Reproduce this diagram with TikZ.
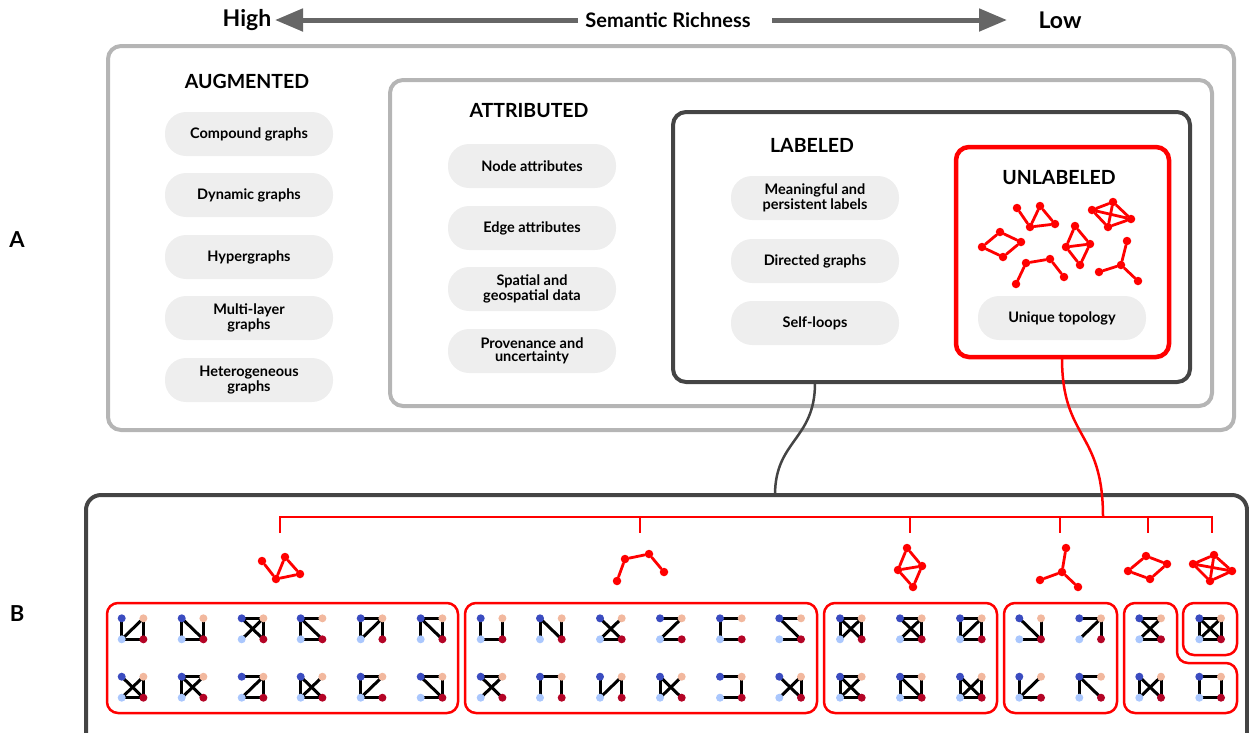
\documentclass[tikz,border=0pt]{standalone}
\usepackage{fontspec}
\setmainfont{Lato}
\usetikzlibrary{arrows.meta,backgrounds}
\definecolor{gbox}{HTML}{B5B5B5}
\definecolor{dbox}{HTML}{444444}
\definecolor{pillc}{HTML}{EEEEEE}
\definecolor{nA}{HTML}{3B4CC0}
\definecolor{nB}{HTML}{F2B89E}
\definecolor{nC}{HTML}{AAC7FD}
\definecolor{nD}{HTML}{B40426}
\definecolor{rred}{HTML}{FF0000}
\definecolor{arrc}{HTML}{666666}
\tikzset{
  pillbox/.style={fill=pillc, rounded corners=21pt, minimum width=168pt, minimum height=44pt, inner sep=0pt, align=center, font=\bfseries\fontsize{14.5}{12.5}\selectfont},
  boxtitle/.style={font=\bfseries\fontsize{19.5}{20}\selectfont},
  graybox/.style={draw=gbox, line width=4pt, rounded corners=13pt, inner sep=0pt},
  darkbox/.style={draw=dbox, line width=4pt, rounded corners=13pt, inner sep=0pt},
  redbox/.style={draw=rred, line width=4.5pt, rounded corners=13pt, inner sep=0pt},
  grpbox/.style={draw=rred, line width=2.5pt, rounded corners=11pt},
  redge/.style={draw=rred, line width=2.8pt, line cap=round},
  rdot/.style={circle, fill=rred, inner sep=0pt, minimum size=8.5pt},
  bedge/.style={draw=black, line width=3pt},
  dotA/.style={circle, fill=nA, inner sep=0pt, minimum size=8pt},
  dotB/.style={circle, fill=nB, inner sep=0pt, minimum size=8pt},
  dotC/.style={circle, fill=nC, inner sep=0pt, minimum size=8pt},
  dotD/.style={circle, fill=nD, inner sep=0pt, minimum size=8pt},
  headtext/.style={font=\bfseries\fontsize{23}{24}\selectfont},
  sidelabel/.style={font=\bfseries\fontsize{22}{24}\selectfont},
  richarrow/.style={arrc, line width=5pt, -{Triangle[length=28pt,width=22pt]}},
}
\newcommand\gtile[4]{%
  \begin{scope}[shift={(#2,#3)}]
    \node[dotA] (#1a) at (0,0) {};
    \node[dotB] (#1b) at (21.7,0) {};
    \node[dotC] (#1c) at (0,21) {};
    \node[dotD] (#1d) at (21.7,21) {};
    \begin{pgfonlayer}{background}
    \foreach \u/\v in {#4} \draw[bedge] (#1\u.center) -- (#1\v.center);
    \end{pgfonlayer}
  \end{scope}}
\begin{document}
\begin{tikzpicture}[x=1pt,y=-1pt]
\useasboundingbox (0,0) rectangle (1249,732);
\clip (0,0) rectangle (1249,732);

% header
\node[headtext] (high) at (247,20) {High};
\node[headtext] (low) at (1060,20) {Low};
\node[font=\bfseries\fontsize{20}{22}\selectfont] (sem) at (668,20) {Semantic Richness};
\coordinate (lstart) at (578,20); \coordinate (ltip) at (275,20);
\coordinate (rstart) at (772,20); \coordinate (rtip) at (1007,20);
\draw[richarrow] (lstart) -- (ltip);
\draw[richarrow] (rstart) -- (rtip);

\node[sidelabel] (A) at (17,240) {A};
\node[sidelabel] (B) at (17,614) {B};

% boxes
\node[graybox, minimum width=1126pt, minimum height=384pt] (aug) at (671,238) {};
\node[graybox, minimum width=822pt, minimum height=326pt] (att) at (801,243) {};
\node[darkbox, minimum width=517pt, minimum height=270pt] (lab) at (931.5,247) {};
\node[redbox, minimum width=213pt, minimum height=210pt] (unl) at (1062.5,252) {};
\node[darkbox, rounded corners=15pt, minimum width=1161pt, minimum height=280pt] (bot) at (666.5,635) {};

% titles
\node[boxtitle] (taug) at (247,81) {AUGMENTED};
\node[boxtitle] (tatt) at (529,111) {ATTRIBUTED};
\node[boxtitle] (tlab) at (812,145) {LABELED};
\node[boxtitle] (tunl) at (1059,178) {UNLABELED};

% pills
\node[pillbox] (p1) at (249,134) {Compound graphs};
\node[pillbox] (p2) at (249,195) {Dynamic graphs};
\node[pillbox] (p3) at (249,257) {Hypergraphs};
\node[pillbox] (p4) at (249,318) {Multi-layer\\graphs};
\node[pillbox] (p5) at (249,380) {Heterogeneous\\graphs};
\node[pillbox] (q1) at (532,166) {Node attributes};
\node[pillbox] (q2) at (532,228) {Edge attributes};
\node[pillbox] (q3) at (532,289) {Spatial and\\geospatial data};
\node[pillbox] (q4) at (532,351) {Provenance and\\uncertainty};
\node[pillbox] (r1) at (815,198) {Meaningful and\\persistent labels};
\node[pillbox] (r2) at (815,261) {Directed graphs};
\node[pillbox] (r3) at (815,323) {Self-loops};
\node[pillbox] (u1) at (1062,318) {Unique topology};

% graphs in UNLABELED box
\node[rdot] (ua1) at (1017,208) {}; \node[rdot] (ua2) at (1030,227) {};
\node[rdot] (ua3) at (1040,206) {}; \node[rdot] (ua4) at (1055,224) {};
\draw[redge] (ua1) -- (ua2) -- (ua3) -- (ua4) -- (ua2);
\node[rdot] (uk1) at (1092,210) {}; \node[rdot] (uk2) at (1113,202) {};
\node[rdot] (uk3) at (1131,219) {}; \node[rdot] (uk4) at (1108,227) {};
\draw[redge] (uk1) -- (uk2) -- (uk3) -- (uk4) -- (uk1) -- (uk3); \draw[redge] (uk2) -- (uk4);
\node[rdot] (uc1) at (982,247) {}; \node[rdot] (uc2) at (1000,232) {};
\node[rdot] (uc3) at (1021,242) {}; \node[rdot] (uc4) at (1003,257) {};
\draw[redge] (uc1) -- (uc2) -- (uc3) -- (uc4) -- (uc1);
\node[rdot] (ud1) at (1075,226) {}; \node[rdot] (ud2) at (1066,247) {};
\node[rdot] (ud3) at (1090,244) {}; \node[rdot] (ud4) at (1080,265) {};
\draw[redge] (ud2) -- (ud1) -- (ud3) -- (ud2) -- (ud4) -- (ud3);
\node[rdot] (up1) at (1016,284) {}; \node[rdot] (up2) at (1026,263) {};
\node[rdot] (up3) at (1050,259) {}; \node[rdot] (up4) at (1064,277) {};
\draw[redge] (up1) -- (up2) -- (up3) -- (up4);
\node[rdot] (us0) at (1121,265) {}; \node[rdot] (us1) at (1127,241) {};
\node[rdot] (us2) at (1099,272) {}; \node[rdot] (us3) at (1138,281) {};
\draw[redge] (us0) -- (us1); \draw[redge] (us0) -- (us2); \draw[redge] (us0) -- (us3);

% connectors
\coordinate (labout) at (815,383);
\coordinate (botin) at (775,495);
\draw[dbox, line width=2.5pt] (labout) .. controls (815,440) and (775,440) .. (botin);
\coordinate (unlout) at (1062,358);
\coordinate (hub) at (1103,517);
\draw[rred, line width=2.5pt] (unlout) .. controls (1062,440) and (1103,430) .. (hub);
\coordinate (t1) at (280,517); \coordinate (t6) at (1212,517);
\coordinate (t2) at (640,517); \coordinate (t3) at (910,517);
\coordinate (t4) at (1060,517); \coordinate (t5) at (1148,517);
\draw[rred, line width=2.5pt] (t1) ++(0,16) -- (t1) -- (t6) -- ++(0,16);
\foreach \t in {t2,t3,t4,t5} \draw[rred, line width=2.5pt] (\t) -- ++(0,16);

% bottom red graphs
\node[rdot] (ba1) at (262,561) {}; \node[rdot] (ba2) at (276,579) {};
\node[rdot] (ba3) at (285,557) {}; \node[rdot] (ba4) at (300,574) {};
\draw[redge] (ba1) -- (ba2) -- (ba3) -- (ba4) -- (ba2);
\node[rdot] (bp1) at (617,581) {}; \node[rdot] (bp2) at (625,559) {};
\node[rdot] (bp3) at (649,554) {}; \node[rdot] (bp4) at (664,572) {};
\draw[redge] (bp1) -- (bp2) -- (bp3) -- (bp4);
\node[rdot] (bd1) at (907,548) {}; \node[rdot] (bd2) at (898,570) {};
\node[rdot] (bd3) at (922,566) {}; \node[rdot] (bd4) at (913,587) {};
\draw[redge] (bd2) -- (bd1) -- (bd3) -- (bd2) -- (bd4) -- (bd3);
\node[rdot] (bs0) at (1062,572) {}; \node[rdot] (bs1) at (1066,548) {};
\node[rdot] (bs2) at (1040,580) {}; \node[rdot] (bs3) at (1078,587) {};
\draw[redge] (bs0) -- (bs1); \draw[redge] (bs0) -- (bs2); \draw[redge] (bs0) -- (bs3);
\node[rdot] (bc1) at (1128,571) {}; \node[rdot] (bc2) at (1146,556) {};
\node[rdot] (bc3) at (1167,564) {}; \node[rdot] (bc4) at (1150,579) {};
\draw[redge] (bc1) -- (bc2) -- (bc3) -- (bc4) -- (bc1);
\node[rdot] (bk1) at (1193,564) {}; \node[rdot] (bk2) at (1214,555) {};
\node[rdot] (bk3) at (1232,571) {}; \node[rdot] (bk4) at (1210,581) {};
\draw[redge] (bk1) -- (bk2) -- (bk3) -- (bk4) -- (bk1) -- (bk3); \draw[redge] (bk2) -- (bk4);

% group boxes
\draw[grpbox] (107,603) rectangle (458,713);
\draw[grpbox] (465,603) rectangle (817,713);
\draw[grpbox] (824,603) rectangle (997,713);
\draw[grpbox] (1004,603) rectangle (1117,713);
\draw[grpbox] (1183,603) rectangle (1237,655);
\draw[draw=rred, line width=2.5pt, rounded corners=11pt]
  (1124,713) -- (1124,603) -- (1177,603) -- (1177,663) -- (1237,663) -- (1237,713) -- cycle;

% group 1: paw
\gtile{ga1}{121.7}{618.3}{a/c,c/d,b/d,b/c}
\gtile{ga2}{181.7}{618.3}{a/c,a/d,b/d,c/d}
\gtile{ga3}{241.7}{618.3}{a/b,a/d,b/c,b/d}
\gtile{ga4}{300.7}{618.3}{a/b,a/c,a/d,c/d}
\gtile{ga5}{360.7}{618.3}{a/b,a/c,b/c,b/d}
\gtile{ga6}{420.7}{618.3}{a/b,a/d,b/d,a/c}
\gtile{gb1}{121.7}{676.7}{a/d,b/c,b/d,c/d}
\gtile{gb2}{181.7}{676.7}{a/b,a/c,a/d,b/c}
\gtile{gb3}{241.7}{676.7}{a/b,b/c,b/d,c/d}
\gtile{gb4}{300.7}{676.7}{a/c,a/d,b/c,c/d}
\gtile{gb5}{360.7}{676.7}{a/b,a/c,b/c,c/d}
\gtile{gb6}{420.7}{676.7}{a/b,a/d,b/d,c/d}
% group 2: path
\gtile{gc1}{480.7}{618.3}{a/c,c/d,b/d}
\gtile{gc2}{540}{618.3}{a/c,a/d,b/d}
\gtile{gc3}{600}{618.3}{a/d,b/c,c/d}
\gtile{gc4}{660}{618.3}{a/b,b/c,c/d}
\gtile{gc5}{720}{618.3}{a/b,a/c,c/d}
\gtile{gc6}{779.3}{618.3}{a/b,a/d,c/d}
\gtile{gd1}{480.7}{676.7}{a/b,a/d,b/c}
\gtile{gd2}{540}{676.7}{a/c,a/b,b/d}
\gtile{gd3}{600}{676.7}{a/c,b/c,b/d}
\gtile{gd4}{660}{676.7}{a/c,a/d,b/c}
\gtile{gd5}{720}{676.7}{a/b,b/d,c/d}
\gtile{gd6}{779.3}{676.7}{a/d,b/c,b/d}
% group 3: diamond
\gtile{ge1}{840}{618.3}{a/b,a/c,a/d,b/c,b/d}
\gtile{ge2}{900}{618.3}{a/b,a/d,b/c,b/d,c/d}
\gtile{ge3}{960}{618.3}{a/b,a/c,b/c,b/d,c/d}
\gtile{gf1}{840}{676.7}{a/b,a/c,a/d,b/c,c/d}
\gtile{gf2}{900}{676.7}{a/b,a/c,a/d,b/d,c/d}
\gtile{gf3}{960}{676.7}{a/c,a/d,b/c,b/d,c/d}
% group 4: star
\gtile{gg1}{1019.3}{618.3}{a/d,b/d,c/d}
\gtile{gg2}{1079.3}{618.3}{a/b,b/c,b/d}
\gtile{gh1}{1019.3}{676.7}{a/c,b/c,c/d}
\gtile{gh2}{1079.3}{676.7}{a/b,a/c,a/d}
% group 5: cycle, group 6: complete
\gtile{gi1}{1139.3}{618.3}{a/b,a/d,b/c,c/d}
\gtile{gj1}{1139.3}{676.7}{a/c,a/d,b/c,b/d}
\gtile{gj2}{1199.3}{676.7}{a/b,b/d,c/d,a/c}
\gtile{gk1}{1199.3}{618.3}{a/b,a/c,a/d,b/c,b/d,c/d}
\end{tikzpicture}
\end{document}
